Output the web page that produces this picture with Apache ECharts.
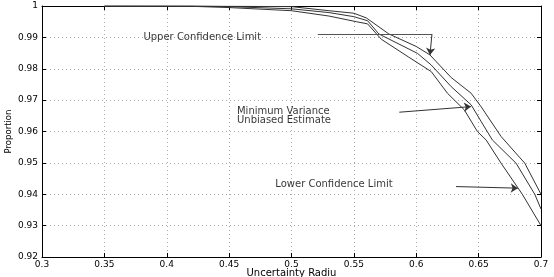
<!DOCTYPE html>
<html>
<head>
<meta charset="utf-8">
<script src="https://cdn.jsdelivr.net/npm/echarts@6/dist/echarts.min.js"></script>
<style>html,body{margin:0;padding:0;background:#fff}#c{width:554px;height:277px}</style>
</head>
<body>
<div id="c"></div>
<script>
// ---- data ----
const xTickLabels = ['0.3','0.35','0.4','0.45','0.5','0.55','0.6','0.65','0.7'];
const yTickLabels = ['0.92','0.93','0.94','0.95','0.96','0.97','0.98','0.99','1'];

const upperX = [0.35, 0.42, 0.5, 0.53, 0.55, 0.56, 0.578, 0.6, 0.611, 0.628, 0.644, 0.652, 0.668, 0.687, 0.7];
const upperY = [1, 1, 0.9998, 0.9985, 0.9977, 0.9962, 0.9911, 0.9871, 0.9844, 0.9772, 0.9722, 0.9679, 0.9584, 0.9499, 0.9400];

const midX = [0.35, 0.42, 0.45, 0.5, 0.53, 0.55, 0.561, 0.57, 0.601, 0.612, 0.628, 0.644, 0.652, 0.661, 0.68, 0.695, 0.7];
const midY = [1, 1, 0.9998, 0.9991, 0.9979, 0.9966, 0.9953, 0.9911, 0.9849, 0.9812, 0.9743, 0.9685, 0.9632, 0.9573, 0.9499, 0.9400, 0.9353];

const lowerX = [0.35, 0.42, 0.45, 0.5, 0.53, 0.552, 0.561, 0.572, 0.594, 0.612, 0.625, 0.6385, 0.649, 0.656, 0.668, 0.685, 0.7];
const lowerY = [1, 0.9999, 0.9995, 0.9985, 0.9968, 0.995, 0.9943, 0.9894, 0.9837, 0.9791, 0.9722, 0.9669, 0.96, 0.9573, 0.9499, 0.94, 0.93];

// annotation texts (anchor: left-middle, data coords)
const noteTexts = ['Upper Confidence Limit', 'Minimum Variance\nUnbiased Estimate', 'Lower Confidence Limit'];
const notePos = [[0.3809, 0.9899], [0.4559, 0.96505], [0.4866, 0.94322]];

// annotation arrows (data coords)
const leaderPlain = [[[0.5211, 0.99108], [0.6126, 0.99108]]];
const leaderArrow = [
  [[0.6126, 0.99108], [0.611, 0.9844]],
  [[0.5864, 0.96615], [0.6439, 0.96793]],
  [[0.6319, 0.94245], [0.6814, 0.94194]]
];

const xAxisName = 'Uncertainty Radiu';
const yAxisName = 'Proportion';

// ---- build ----
function zip(xs, ys) { return xs.map((x, i) => [x, ys[i]]); }
const FONT = 'DejaVu Sans';
const lineColor = '#333';

const chart = echarts.init(document.getElementById('c'), null, {renderer: 'canvas'});

const axisCommon = {
  type: 'value',
  axisLine: {show: true, onZero: false, lineStyle: {color: '#000', width: 1}},
  axisTick: {show: true, inside: true, length: 4, lineStyle: {color: '#000'}},
};

const option = {
  animation: false,
  backgroundColor: '#fff',
  grid: {left: 42, right: 13, top: 6, bottom: 20, containLabel: false, outerBoundsMode: 'none'},
  xAxis: [
    Object.assign({}, axisCommon, {
      min: 0.3, max: 0.7, interval: 0.05, position: 'bottom',
      axisLabel: {color: '#000', fontSize: 9, fontFamily: FONT, margin: 3,
        formatter: (v, i) => xTickLabels[i]},
      splitLine: {show: true, lineStyle: {color: '#aaa', type: [1, 3], width: 1}},
      name: xAxisName, nameLocation: 'middle', nameGap: 11.5, nameMoveOverlap: false,
      nameTextStyle: {color: '#000', fontSize: 10, fontFamily: FONT, verticalAlign: 'top'}
    }),
    Object.assign({}, axisCommon, {
      min: 0.3, max: 0.7, interval: 0.05, position: 'top',
      axisLabel: {show: false}, splitLine: {show: false}
    })
  ],
  yAxis: [
    Object.assign({}, axisCommon, {
      min: 0.92, max: 1, interval: 0.01, position: 'left',
      axisLabel: {color: '#000', fontSize: 9, fontFamily: FONT, margin: 4,
        formatter: (v, i) => yTickLabels[i]},
      splitLine: {show: true, lineStyle: {color: '#aaa', type: [1, 3], width: 1}},
      name: yAxisName, nameLocation: 'middle', nameGap: 29, nameRotate: 90, nameMoveOverlap: false,
      nameTextStyle: {color: '#000', fontSize: 8.5, fontFamily: FONT}
    }),
    Object.assign({}, axisCommon, {
      min: 0.92, max: 1, interval: 0.01, position: 'right',
      axisLabel: {show: false}, splitLine: {show: false}
    })
  ],
  series: [
    {type: 'line', data: zip(upperX, upperY), showSymbol: false, symbol: 'none',
      lineStyle: {color: lineColor, width: 1}, z: 3},
    {type: 'line', data: zip(midX, midY), showSymbol: false, symbol: 'none',
      lineStyle: {color: lineColor, width: 1}, z: 3},
    {type: 'line', data: zip(lowerX, lowerY), showSymbol: false, symbol: 'none',
      lineStyle: {color: lineColor, width: 1}, z: 3},
    {type: 'lines', coordinateSystem: 'cartesian2d', symbol: ['none', 'none'],
      lineStyle: {color: '#555', width: 1, opacity: 1}, silent: true, z: 4,
      data: leaderPlain.map(c => ({coords: c}))},
    {type: 'lines', coordinateSystem: 'cartesian2d', symbol: ['none', 'arrow'], symbolSize: 7,
      lineStyle: {color: '#333', width: 1, opacity: 1}, silent: true, z: 4,
      data: leaderArrow.map(c => ({coords: c}))},
    {type: 'scatter', symbolSize: 1, itemStyle: {color: 'rgba(0,0,0,0)'}, silent: true, z: 5,
      data: notePos.map((p, i) => ({value: p, name: noteTexts[i]})),
      label: {show: true, position: 'right', distance: 0, formatter: '{b}',
        color: '#000', fontSize: 10, fontFamily: FONT, lineHeight: 9, align: 'left', verticalAlign: 'middle'}}
  ]
};
chart.setOption(option);
</script>
</body>
</html>
